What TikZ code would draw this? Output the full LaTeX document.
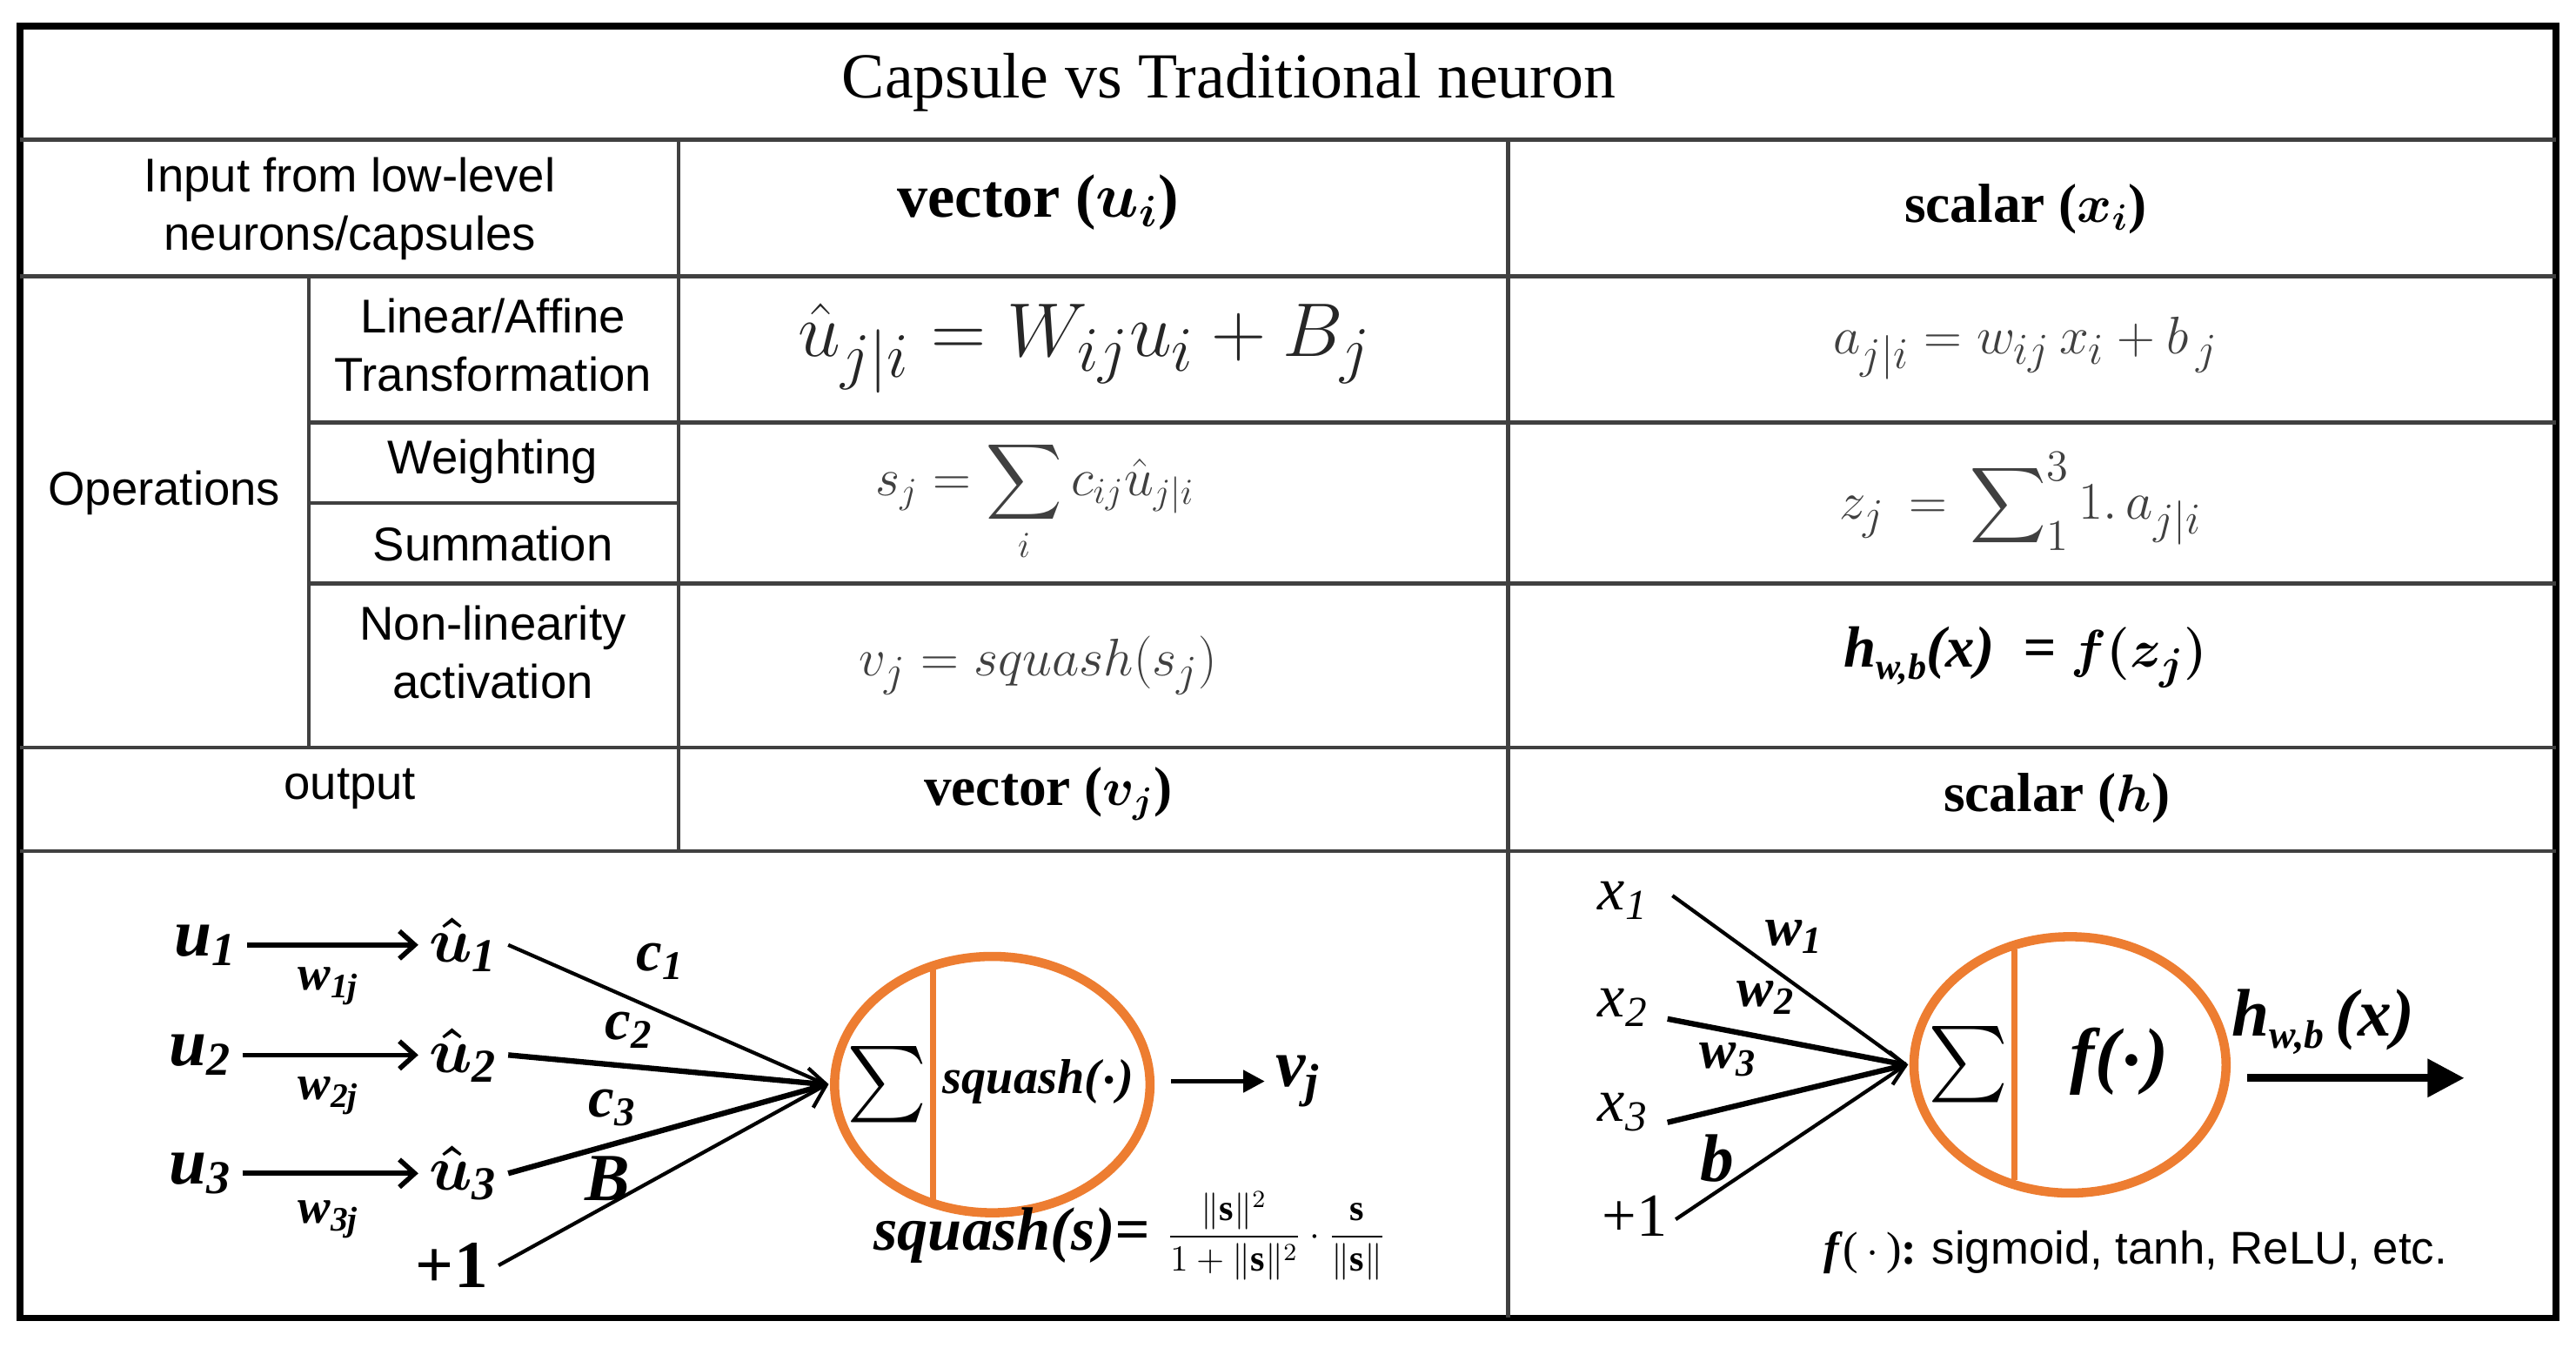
\documentclass[tikz,border=0pt]{standalone}
\usepackage{amsmath}
\usepackage{fontspec}
\setmainfont{Liberation Serif}
\newfontfamily\sansf{Liberation Sans}
\usetikzlibrary{arrows.meta}
\begin{document}
\begin{tikzpicture}[x=0.01888cm,y=-0.01888cm,
  grid/.style={line width=1.3pt,black!75},
  lab/.style={font=\sansf\fontsize{15.5}{19}\selectfont,align=center},
  hd/.style={font=\bfseries\fontsize{20}{24}\selectfont},
  eq/.style={text=black!75,font=\fontsize{19}{22}\selectfont},
  dg/.style={font=\bfseries\itshape\fontsize{22}{24}\selectfont},
  sub/.style={font=\bfseries\itshape\fontsize{16}{18}\selectfont},
  wire/.style={line width=1.2pt},
  orng/.style={draw={rgb,255:red,237;green,125;blue,49},line width=3pt},
  orl/.style={draw={rgb,255:red,237;green,125;blue,49},line width=2pt}]
\useasboundingbox (0,0) rectangle (1568,820);
\fill[white] (0,0) rectangle (1568,820);
% table
\draw[line width=2.2pt] (12,16) rectangle (1556,802);
\draw[grid] (12,85) -- (1556,85);
\draw[grid] (12,168) -- (1556,168);
\draw[grid] (188,257) -- (1556,257);
\draw[grid] (188,306) -- (413,306);
\draw[grid] (188,355) -- (1556,355);
\draw[grid] (12,455) -- (1556,455);
\draw[grid] (12,518) -- (1556,518);
\draw[grid] (413,85) -- (413,518);
\draw[grid] (918,85) -- (918,802);
\draw[grid] (188,168) -- (188,455);
% texts
\node (title) at (748,50) {\fontsize{21}{24}\selectfont Capsule vs Traditional neuron};
\node[lab] (inp) at (213,127) {Input from low-level\\neurons/capsules};
\node[hd] (vec) at (632,123) {vector ($\boldsymbol{u_i}$)};
\node[hd,font=\bfseries\fontsize{18}{21}\selectfont] (sca) at (1233,127) {scalar ($\boldsymbol{x_i}$)};
\node[lab] (ops) at (100,300) {Operations};
\node[lab] (lin) at (300,210) {Linear/Affine\\Transformation};
\node[lab] (wei) at (300,281) {Weighting};
\node[lab] (sum) at (300,331) {Summation};
\node[lab] (non) at (300,397) {Non-linearity\\activation};
\node[lab] (out) at (213,480) {output};
\node[text=black!85,font=\fontsize{30}{34}\selectfont] (e1) at (660,212) {$\hat{u}_{j|i}=W_{ij}u_i+B_j$};
\node[eq] (e2) at (1233,212) {$a_{j|i}=w_{ij}\,x_i+b_{\,j}$};
\node[eq,font=\fontsize{18}{21}\selectfont] (e3) at (630,305) {$s_j=\displaystyle\sum_i c_{ij}\hat{u}_{j|i}$};
\node[eq,font=\fontsize{19}{22}\selectfont] (e4) at (1230,305) {$z_j\,=\,\displaystyle\sum\nolimits_1^3 1.\,a_{j|i}$};
\node[eq] (e5) at (632,405) {$v_j=squash(s_j)$};
\node[font=\bfseries\itshape\fontsize{19}{22}\selectfont] (e6) at (1233,400) {h\raisebox{-4pt}{\fontsize{12}{13}\selectfont w,b}(x)\ \ = $\boldsymbol{f(z_j)}$};
\node[hd,font=\bfseries\fontsize{18}{21}\selectfont] (vout) at (638,483) {vector ($\boldsymbol{v_j}$)};
\node[hd,font=\bfseries\fontsize{18}{21}\selectfont] (hout) at (1252,486) {scalar ($\boldsymbol{h}$)};
% left diagram
\node[dg] (u1) at (125,575) {u\textsubscript{1}};
\node[dg] (u2) at (122,642) {u\textsubscript{2}};
\node[dg] (u3) at (122,714) {u\textsubscript{3}};
\node[dg] (h1) at (282,575) {$\boldsymbol{\hat{u}}$\textsubscript{1}};
\node[dg] (h2) at (282,642) {$\boldsymbol{\hat{u}}$\textsubscript{2}};
\node[dg] (h3) at (282,714) {$\boldsymbol{\hat{u}}$\textsubscript{3}};
\node[font=\bfseries\fontsize{22}{24}\selectfont] (p1) at (275,770) {+1};
\node[sub] at (200,600) {w\textsubscript{1j}};
\node[sub] at (200,667) {w\textsubscript{2j}};
\node[sub] at (200,742) {w\textsubscript{3j}};
\draw[wire,line width=1.6pt,-{Straight Barb[length=5pt,width=9pt]}] (u1.east) -- (h1.west |- u1.east);
\draw[wire,line width=1.6pt,-{Straight Barb[length=5pt,width=9pt]}] (u2.east) -- (h2.west |- u2.east);
\draw[wire,line width=1.6pt,-{Straight Barb[length=5pt,width=9pt]}] (u3.east) -- (h3.west |- u3.east);
\coordinate (cv) at (503,660);
\draw[wire] (h1.east) -- (cv);
\draw[wire,line width=1.8pt] (h2.east) -- (cv);
\draw[wire,line width=1.8pt] (h3.east) -- (cv);
\draw[wire] (p1.east) -- (cv);
\draw[wire] (492,650) -- (cv) -- (495,674);
\node[sub,font=\bfseries\itshape\fontsize{19}{21}\selectfont] at (402,585) {c\textsubscript{1}};
\node[sub,font=\bfseries\itshape\fontsize{19}{21}\selectfont] at (383,627) {c\textsubscript{2}};
\node[sub,font=\bfseries\itshape\fontsize{19}{21}\selectfont] at (373,674) {c\textsubscript{3}};
\node[dg] at (370,717) {B};
\draw[orng] (604,660) ellipse [x radius=96,y radius=78];
\draw[orl] (568,588) -- (568,732);
\node (sig1) at (540,660) {\fontsize{30}{32}\selectfont$\sum$};
\node[sub] (sq) at (632,658) {squash($\boldsymbol\cdot$)};
\node[dg] (vj) at (790,658) {v\textsubscript{j}};
\draw[wire,line width=1.6pt,-{Triangle[length=7pt,width=7pt]}] (713,658) -- (vj.west);
\node[dg,font=\bfseries\itshape\fontsize{20}{22}\selectfont] (sqs) at (616,752) {squash(s)=};
\node[font=\bfseries\fontsize{12}{14}\selectfont] (frac) at (777,752) {$\dfrac{\|\mathbf{s}\|^2}{1+\|\mathbf{s}\|^2}\cdot\dfrac{\mathbf{s}}{\|\mathbf{s}\|}$};
% right diagram
\node[font=\itshape\fontsize{20}{22}\selectfont] (x1) at (988,548) {x\textsubscript{1}};
\node[font=\itshape\fontsize{20}{22}\selectfont] (x2) at (988,613) {x\textsubscript{2}};
\node[font=\itshape\fontsize{20}{22}\selectfont] (x3) at (988,677) {x\textsubscript{3}};
\node[font=\fontsize{20}{22}\selectfont] (q1) at (995,740) {+1};
\coordinate (cr) at (1160,648);
\draw[wire] (1018,545) -- (cr);
\draw[wire,line width=1.8pt] (1015,620) -- (cr);
\draw[wire,line width=1.8pt] (1015,683) -- (cr);
\draw[wire] (1020,742) -- (cr);
\draw[wire] (1150,640) -- (cr) -- (1152,660);
\node[sub,font=\bfseries\itshape\fontsize{18}{20}\selectfont] at (1092,570) {w\textsubscript{1}};
\node[sub,font=\bfseries\itshape\fontsize{18}{20}\selectfont] at (1075,607) {w\textsubscript{2}};
\node[sub,font=\bfseries\itshape\fontsize{18}{20}\selectfont] at (1052,645) {w\textsubscript{3}};
\node[dg] at (1045,705) {b};
\draw[orng] (1260,648) ellipse [x radius=95,y radius=78];
\draw[orl] (1226,578) -- (1226,718);
\node (sig2) at (1198,648) {\fontsize{30}{32}\selectfont$\sum$};
\node[font=\bfseries\itshape\fontsize{24}{26}\selectfont] (fd) at (1290,646) {f($\boldsymbol{\cdot}$)};
\coordinate (ae) at (1500,656);
\draw[line width=2.5pt,-{Triangle[length=12pt,width=12pt]}] (1368,656) -- (ae);
\node[dg] at (1414,622) {h\raisebox{-4pt}{\fontsize{13}{14}\selectfont w,b}\,(x)};
\node (fl) at (1300,762) {\fontsize{15}{17}\selectfont\textbf{\textit{f}}(\,$\cdot$\,)\textbf{:} {\sansf sigmoid, tanh, ReLU, etc.}};
\end{tikzpicture}
\end{document}
